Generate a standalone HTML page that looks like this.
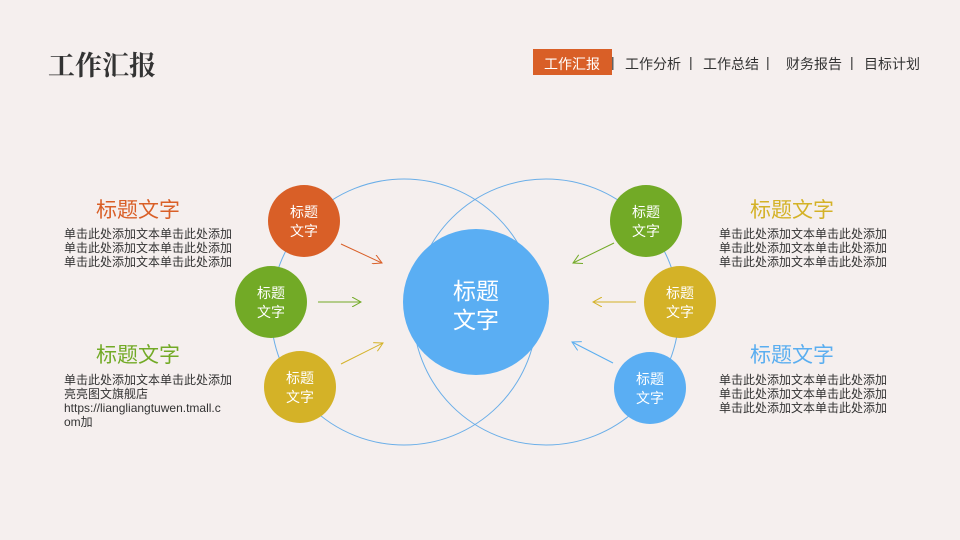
<!DOCTYPE html>
<html><head><meta charset="utf-8"><style>
body{margin:0;width:960px;height:540px;background:#f5efee;position:relative;overflow:hidden;font-family:"Liberation Sans","Noto Sans CJK SC",sans-serif;}
.a{position:absolute;white-space:nowrap}
.t{font-size:21px}
.b{font-size:12px;line-height:14px;color:#333}
.n{position:absolute;top:54px;font-size:14px;color:#333;white-space:nowrap}
</style></head><body>
<div class="a" style="left:48px;top:44px;font-size:27px;font-weight:bold;color:#333;font-family:'Noto Serif CJK SC',serif;">工作汇报</div>
<div class="a" style="left:533px;top:49px;width:79px;height:26px;background:#d95f27;"></div>
<div class="n" style="left:544px;color:#fff">工作汇报</div>
<div class="n" style="left:611px">|</div>
<div class="n" style="left:625px">工作分析</div>
<div class="n" style="left:689px">|</div>
<div class="n" style="left:703px">工作总结</div>
<div class="n" style="left:766px">|</div>
<div class="n" style="left:786px">财务报告</div>
<div class="n" style="left:850px">|</div>
<div class="n" style="left:864px">目标计划</div>

<svg class="a" style="left:0;top:0" width="960" height="540">
<defs>
<marker id="mo" markerWidth="10" markerHeight="10" refX="9" refY="5" orient="auto" markerUnits="userSpaceOnUse"><path d="M0,0L9,5L0,10" fill="none" stroke="#d95f27"/></marker>
<marker id="mg" markerWidth="10" markerHeight="10" refX="9" refY="5" orient="auto" markerUnits="userSpaceOnUse"><path d="M0,0L9,5L0,10" fill="none" stroke="#72aa26"/></marker>
<marker id="my" markerWidth="10" markerHeight="10" refX="9" refY="5" orient="auto" markerUnits="userSpaceOnUse"><path d="M0,0L9,5L0,10" fill="none" stroke="#d4b227"/></marker>
<marker id="mb" markerWidth="10" markerHeight="10" refX="9" refY="5" orient="auto" markerUnits="userSpaceOnUse"><path d="M0,0L9,5L0,10" fill="none" stroke="#5aaef0"/></marker>
</defs>
<circle cx="404" cy="312" r="133" fill="none" stroke="#6aaee8" stroke-width="1"/>
<circle cx="546" cy="312" r="133" fill="none" stroke="#6aaee8" stroke-width="1"/>
<circle cx="476" cy="302" r="73" fill="#5aaef3"/>
<circle cx="304" cy="221" r="36" fill="#d95f27"/>
<circle cx="271" cy="302" r="36" fill="#72aa26"/>
<circle cx="300" cy="387" r="36" fill="#d4b227"/>
<circle cx="646" cy="221" r="36" fill="#72aa26"/>
<circle cx="680" cy="302" r="36" fill="#d4b227"/>
<circle cx="650" cy="388" r="36" fill="#5aaef3"/>
<line x1="341" y1="244" x2="382" y2="263" stroke="#d95f27" marker-end="url(#mo)"/>
<line x1="318" y1="302" x2="361" y2="302" stroke="#72aa26" marker-end="url(#mg)"/>
<line x1="341" y1="364" x2="383" y2="343" stroke="#d4b227" marker-end="url(#my)"/>
<line x1="614" y1="243" x2="573" y2="263" stroke="#72aa26" marker-end="url(#mg)"/>
<line x1="636" y1="302" x2="593" y2="302" stroke="#d4b227" marker-end="url(#my)"/>
<line x1="613" y1="363" x2="572" y2="342" stroke="#5aaef0" marker-end="url(#mb)"/>
<g fill="#fff" font-size="14" text-anchor="middle" font-family="Liberation Sans,Noto Sans CJK SC,sans-serif">
<text x="304" y="217">标题</text><text x="304" y="236">文字</text>
<text x="271" y="298">标题</text><text x="271" y="317">文字</text>
<text x="300" y="383">标题</text><text x="300" y="402">文字</text>
<text x="646" y="217">标题</text><text x="646" y="236">文字</text>
<text x="680" y="298">标题</text><text x="680" y="317">文字</text>
<text x="650" y="384">标题</text><text x="650" y="403">文字</text>
<text x="476" y="299" font-size="23">标题</text><text x="476" y="328" font-size="23">文字</text>
</g>
</svg>

<div class="a t" style="left:96px;top:194px;color:#d95f27">标题文字</div>
<div class="a b" style="left:64px;top:227px">单击此处添加文本单击此处添加<br>单击此处添加文本单击此处添加<br>单击此处添加文本单击此处添加</div>
<div class="a t" style="left:96px;top:339px;color:#72aa26">标题文字</div>
<div class="a b" style="left:64px;top:373px">单击此处添加文本单击此处添加<br>亮亮图文旗舰店<br>https://liangliangtuwen.tmall.c<br>om加</div>
<div class="a t" style="left:750px;top:194px;color:#d4b227">标题文字</div>
<div class="a b" style="left:719px;top:227px">单击此处添加文本单击此处添加<br>单击此处添加文本单击此处添加<br>单击此处添加文本单击此处添加</div>
<div class="a t" style="left:750px;top:339px;color:#5aaef0">标题文字</div>
<div class="a b" style="left:719px;top:373px">单击此处添加文本单击此处添加<br>单击此处添加文本单击此处添加<br>单击此处添加文本单击此处添加</div>
</body></html>
